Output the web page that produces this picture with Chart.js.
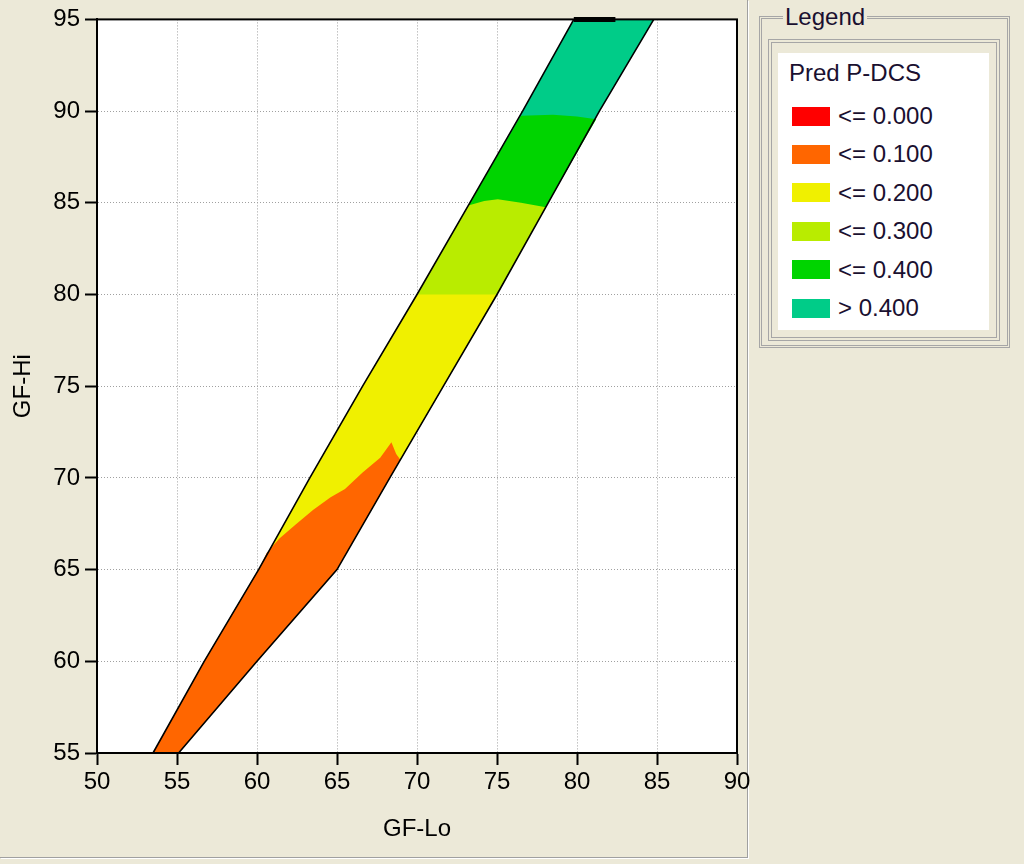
<!DOCTYPE html>
<html>
<head>
<meta charset="utf-8">
<script src="https://cdn.jsdelivr.net/npm/chart.js@4/dist/chart.umd.min.js"></script>
<style>
  body { margin: 0; background: #ece9d8; font-family: "Liberation Sans", Arial, sans-serif; }
  #frame { position: absolute; left: 0; top: 0; width: 747px; height: 857px;
           border-right: 1px solid #a0a0a0; border-bottom: 1px solid #a0a0a0;
           box-shadow: 1px 1px 0 #ffffff; }
  #wrap { position: absolute; left: 0; top: 0; width: 760px; height: 858px; }
  #group { position: absolute; left: 759px; top: 16px; width: 251px; height: 332px;
           box-sizing: border-box; border: 3px double #a6a6a6; }
  #caption { position: absolute; left: 783px; top: 3px; padding: 0 2px; background: #ece9d8;
             font-size: 24px; color: #1a1030; line-height: 28px; }
  #inner { position: absolute; left: 768px; top: 39px; width: 232px; height: 302px;
           box-sizing: border-box; border: 4px double #a6a6a6; }
  #body { position: absolute; left: 778px; top: 53px; width: 211px; height: 277px; background: #fff; }
  .txt { position: absolute; font-size: 24px; color: #1a1030; line-height: 28px; white-space: nowrap; }
  .sw { position: absolute; width: 38px; height: 19px; }
</style>
</head>
<body>
<div id="frame"></div>
<div id="wrap"><canvas id="chart"></canvas></div>
<div id="group"></div>
<div id="caption">Legend</div>
<div id="inner"></div>
<div id="body"></div>
<script>
// axis ticks
const xTicks = [50, 55, 60, 65, 70, 75, 80, 85, 90];
const yTicks = [55, 60, 65, 70, 75, 80, 85, 90, 95];

// outer edges of the computed band (GF-Lo, GF-Hi)
const leftEdge = [[53.5, 55], [56.7, 60], [60.1, 65], [63.3, 70], [66.6, 75], [70.0, 80], [73.3, 85], [76.6, 90], [79.8, 95]];
const rightEdge = [[55.1, 55], [60.0, 60], [65.0, 65], [68.3, 70], [71.65, 75], [75.0, 80], [78.2, 85], [81.4, 90], [84.8, 95]];
const topEdge = [[79.8, 95], [82.4, 95]];

// upper boundaries of each P-DCS class (left edge -> right edge)
const orangeTop = [[60.6, 65.9], [61.4, 66.7], [62.4, 67.45], [63.5, 68.25], [64.6, 68.95], [65.5, 69.4],
                   [66.6, 70.3], [67.7, 71.1], [68.4, 71.95], [68.7, 71.3], [68.95, 71.0]];
const yellowTop = [[70.0, 80], [75.0, 80]];
const yellowGreenTop = [[73.2, 84.85], [74.2, 85.1], [75.05, 85.2], [76.5, 85.0], [78.05, 84.76]];
const greenTop = [[76.5, 89.75], [78.5, 89.8], [80.0, 89.7], [81.2, 89.56]];
const tealTop = [[79.8, 95], [84.8, 95]];

// legend
const legendLabels = ['<= 0.000', '<= 0.100', '<= 0.200', '<= 0.300', '<= 0.400', '> 0.400'];
const legendColors = ['#ff0000', '#ff6600', '#f0f000', '#b9ec00', '#00d400', '#00cc88'];

const pt = p => ({x: p[0], y: p[1]});

// area from the bottom of the band up to a boundary
function region(top) {
  const y0 = top[0][1], y1 = top[top.length - 1][1];
  const left = leftEdge.filter(p => p[1] < y0);
  const right = rightEdge.filter(p => p[1] < y1).reverse();
  return left.concat(top, right).map(pt);
}

function areaSet(label, top, color) {
  return {
    label: label,
    data: region(top),
    backgroundColor: color,
    borderWidth: 0,
    pointRadius: 0,
    fill: 'shape',
    tension: 0
  };
}

function edgeSet(points, width) {
  return {
    data: points.map(pt),
    borderColor: '#000',
    borderWidth: width,
    pointRadius: 0,
    fill: false,
    tension: 0,
    clip: 3
  };
}

const plotBg = {
  id: 'plotBg',
  beforeDraw(chart) {
    const a = chart.chartArea, ctx = chart.ctx;
    ctx.save();
    ctx.fillStyle = '#fff';
    ctx.fillRect(a.left, a.top, a.right - a.left, a.bottom - a.top);
    ctx.restore();
  },
  afterDraw(chart) {
    const a = chart.chartArea, ctx = chart.ctx;
    ctx.save();
    ctx.strokeStyle = '#000';
    ctx.lineWidth = 2;
    ctx.strokeRect(a.left, a.top, a.right - a.left, a.bottom - a.top);
    ctx.restore();
  }
};

const font = {family: '"Liberation Sans", Arial, sans-serif', size: 24};

new Chart(document.getElementById('chart'), {
  type: 'line',
  data: {
    datasets: [
      edgeSet(topEdge, 5),
      edgeSet(leftEdge, 1.6),
      edgeSet(rightEdge, 1.6),
      areaSet(legendLabels[1], orangeTop, legendColors[1]),
      areaSet(legendLabels[2], yellowTop, legendColors[2]),
      areaSet(legendLabels[3], yellowGreenTop, legendColors[3]),
      areaSet(legendLabels[4], greenTop, legendColors[4]),
      areaSet(legendLabels[5], tealTop, legendColors[5])
    ]
  },
  options: {
    responsive: true,
    maintainAspectRatio: false,
    animation: false,
    layout: {padding: {top: 15, right: 23, left: 0, bottom: 0}},
    plugins: {legend: {display: false}, tooltip: {enabled: false}},
    scales: {
      x: {
        type: 'linear',
        min: 50, max: 90,
        afterBuildTicks: s => { s.ticks = xTicks.map(v => ({value: v})); },
        afterFit: s => { s.height = 105; },
        grid: {color: '#a0a0a0', tickColor: '#000', tickLength: 12, tickWidth: 2, tickBorderDash: []},
        border: {display: true, color: '#000', width: 2, dash: [1, 2]},
        ticks: {font: font, color: '#000', padding: 3, maxRotation: 0, autoSkip: false},
        title: {display: true, text: 'GF-Lo', font: font, color: '#000', padding: {top: 0, bottom: 14}}
      },
      y: {
        type: 'linear',
        min: 55, max: 95,
        afterBuildTicks: s => { s.ticks = yTicks.map(v => ({value: v})); },
        afterFit: s => { s.width = 97; },
        grid: {color: '#a0a0a0', tickColor: '#000', tickLength: 12, tickWidth: 2, tickBorderDash: []},
        border: {display: true, color: '#000', width: 2, dash: [1, 2]},
        ticks: {font: font, color: '#000', padding: 5, autoSkip: false},
        title: {display: true, text: 'GF-Hi', font: font, color: '#000', padding: {top: 9, bottom: 0}}
      }
    }
  },
  plugins: [plotBg]
});

// legend panel
const body = document.body;
const title = document.createElement('div');
title.className = 'txt';
title.style.left = '789px';
title.style.top = '59px';
title.textContent = 'Pred P-DCS';
body.appendChild(title);
legendLabels.forEach((lab, i) => {
  const cy = 116 + i * 38.4;
  const sw = document.createElement('div');
  sw.className = 'sw';
  sw.style.left = '792px';
  sw.style.top = (cy - 9.5) + 'px';
  sw.style.background = legendColors[i];
  body.appendChild(sw);
  const t = document.createElement('div');
  t.className = 'txt';
  t.style.left = '838px';
  t.style.top = (cy - 14) + 'px';
  t.textContent = lab;
  body.appendChild(t);
});
</script>
</body>
</html>
